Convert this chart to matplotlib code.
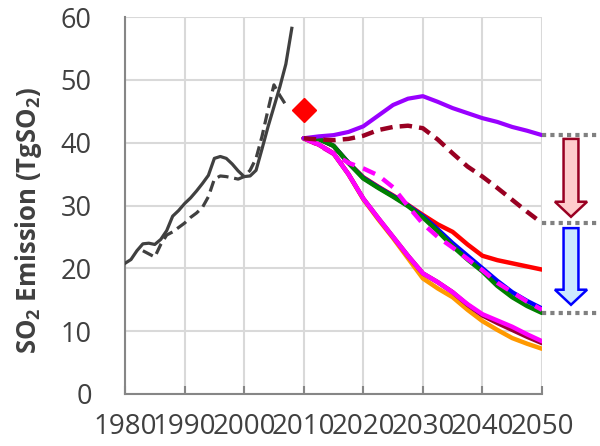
import matplotlib
matplotlib.use("Agg")
import matplotlib.pyplot as plt
from matplotlib.patches import FancyArrow

plt.rcParams['font.family'] = ['Open Sans', 'DejaVu Sans']
plt.rcParams['mathtext.fontset'] = 'custom'
plt.rcParams['mathtext.rm'] = 'Open Sans:bold'
plt.rcParams['mathtext.bf'] = 'Open Sans:bold'
plt.rcParams['mathtext.default'] = 'bf'

# ---------------- data ----------------
hist_years = list(range(1980, 2009))
hist_solid = [20.8, 21.4, 22.8, 23.9, 24.0, 23.8, 24.6, 26.0, 28.3, 29.2,
              30.3, 31.2, 32.3, 33.5, 34.8, 37.5, 37.8, 37.5, 36.6, 35.5,
              34.6, 34.7, 35.6, 39.0, 42.5, 45.7, 48.9, 52.5, 58.2]

hist2_years = list(range(1983, 2008))
hist_dashed = [22.8, 22.3, 21.8, 23.8, 25.3, 25.8, 26.5, 27.2, 28.1, 28.8,
               29.7, 31.4, 34.2, 34.7, 34.6, 34.4, 34.2, 34.6, 35.6, 37.5,
               41.0, 45.2, 49.2, 47.5, 46.0]

obs_year = [2010]
obs_value = [45.2]

fut_years = [2010, 2012.5, 2015, 2017.5, 2020, 2022.5, 2025, 2027.5, 2030,
             2032.5, 2035, 2037.5, 2040, 2042.5, 2045, 2047.5, 2050]
purple = [40.7, 41.0, 41.2, 41.7, 42.6, 44.3, 46.0, 47.0, 47.4,
          46.5, 45.5, 44.7, 43.9, 43.3, 42.5, 41.9, 41.2]
darkred_dashed = [40.7, 40.5, 40.4, 40.6, 41.1, 42.0, 42.5, 42.7, 42.3,
                  40.5, 38.3, 36.2, 34.6, 32.8, 30.9, 29.0, 27.2]
green = [40.7, 40.6, 39.5, 36.8, 34.3, 32.8, 31.4, 29.9, 28.1,
         25.9, 23.5, 21.4, 19.5, 17.2, 15.4, 14.0, 12.9]
blue = [40.7, 40.6, 39.5, 36.8, 34.4, 32.9, 31.5, 30.0, 28.3,
        26.2, 24.0, 22.0, 20.0, 18.0, 16.2, 14.8, 13.6]
red = [40.7, 40.6, 39.5, 36.8, 34.5, 33.0, 31.6, 30.1, 28.5,
       27.0, 25.8, 23.8, 22.0, 21.3, 20.8, 20.3, 19.8]
magenta_dashed = [40.7, 39.6, 38.2, 36.8, 35.9, 34.8, 32.9, 29.9, 27.1,
                  25.0, 23.3, 21.5, 19.7, 17.7, 16.2, 14.7, 13.4]
magenta = [40.7, 39.7, 38.3, 35.0, 31.1, 28.0, 25.0, 22.0, 19.2,
           17.8, 16.2, 14.3, 12.7, 11.7, 10.7, 9.5, 8.4]
orange = [40.7, 39.7, 38.3, 35.0, 31.0, 27.8, 24.8, 21.6, 18.4,
          16.8, 15.4, 13.4, 11.6, 10.2, 8.9, 8.0, 7.2]
darkred_solid = [40.7, 39.7, 38.3, 35.0, 31.1, 28.0, 25.0, 22.0, 19.2,
                 17.8, 16.2, 14.2, 12.5, 11.3, 10.2, 9.1, 8.1]

x_ticks = [1980, 1990, 2000, 2010, 2020, 2030, 2040, 2050]
y_ticks = [0, 10, 20, 30, 40, 50, 60]

# ---------------- figure ----------------
fig = plt.figure(figsize=(6, 4.46), dpi=100)
ax = fig.add_axes([125/600, 52/446, 417/600, 377/446])

txt = '#404040'
ax.plot(hist_years, hist_solid, color='#404040', lw=2.3, zorder=5)
ax.plot(hist2_years, hist_dashed, color='#404040', lw=2.3, ls=(0, (3.5, 1.8)), zorder=5)
ax.plot(obs_year, obs_value, 'D', color='#FF0000', ms=12, zorder=6)

ax.plot(fut_years, red, color='#FF0000', lw=3.2, zorder=5, solid_capstyle='round')
ax.plot(fut_years, blue, color='#0000FF', lw=3.2, zorder=5, solid_capstyle='round')
ax.plot(fut_years, green, color='#008000', lw=3.2, zorder=5, solid_capstyle='round')
ax.plot(fut_years, magenta_dashed, color='#FF00FF', lw=3.2, ls=(0, (3, 2)), zorder=5)
ax.plot(fut_years, orange, color='#FF9900', lw=3.2, zorder=5, solid_capstyle='round')
ax.plot(fut_years, darkred_solid, color='#990033', lw=3.2, zorder=5, solid_capstyle='round')
ax.plot(fut_years, magenta, color='#FF00FF', lw=3.2, zorder=5, solid_capstyle='round')
ax.plot(fut_years, purple, color='#9900FF', lw=3.0, zorder=5, solid_capstyle='round')
ax.plot(fut_years, darkred_dashed, color='#990022', lw=3.2, ls=(0, (2.8, 1.6)), zorder=5)

ax.set_xlim(1980, 2050)
ax.set_ylim(0, 60)
ax.set_xticks(x_ticks)
ax.set_yticks(y_ticks)
ax.grid(True, color='#D9D9D9', lw=1.5, zorder=0)
ax.set_axisbelow(True)
for s in ['top', 'right']:
    ax.spines[s].set_visible(False)
for s in ['left', 'bottom']:
    ax.spines[s].set_color('#868686')
    ax.spines[s].set_linewidth(1.5)
ax.tick_params(axis='x', direction='in', length=6, width=1.5, color='#868686',
               labelsize=20, labelcolor=txt, pad=14)
ax.tick_params(axis='y', length=0, labelsize=19.5, labelcolor=txt, pad=24)

ax.set_ylabel(r'SO$_2$ Emission (TgSO$_2$)', fontsize=18.5, fontweight='bold', color=txt)
ax.yaxis.set_label_coords(-0.195, 0.46)

# reference dotted lines on the right
x_end = fut_years[-1]
x_out = x_end + (600 - 542) / 417 * 70
for v in [purple[-1], darkred_dashed[-1], green[-1]]:
    ax.plot([x_end, x_out], [v, v], color='#808080', lw=3, ls=(0, (1, 1)),
            solid_capstyle='butt', dash_capstyle='butt', clip_on=False, zorder=4)

# arrows
ax_x = x_end + 29 / 417 * 70
a1 = FancyArrow(ax_x, purple[-1] - 0.6, 0, -(purple[-1] - 0.6 - (darkred_dashed[-1] + 1.0)),
                width=2.5, head_width=5.4, head_length=2.4, length_includes_head=True,
                facecolor='#FFCCCC', edgecolor='#990022', lw=1.8, clip_on=False, zorder=6)
a2 = FancyArrow(ax_x, darkred_dashed[-1] - 0.8, 0, -(darkred_dashed[-1] - 0.8 - (green[-1] + 1.3)),
                width=2.5, head_width=5.4, head_length=2.4, length_includes_head=True,
                facecolor='#CCE8FF', edgecolor='#0000FF', lw=1.8, clip_on=False, zorder=6)
ax.add_patch(a1)
ax.add_patch(a2)

fig.savefig('out.png', dpi=100)
